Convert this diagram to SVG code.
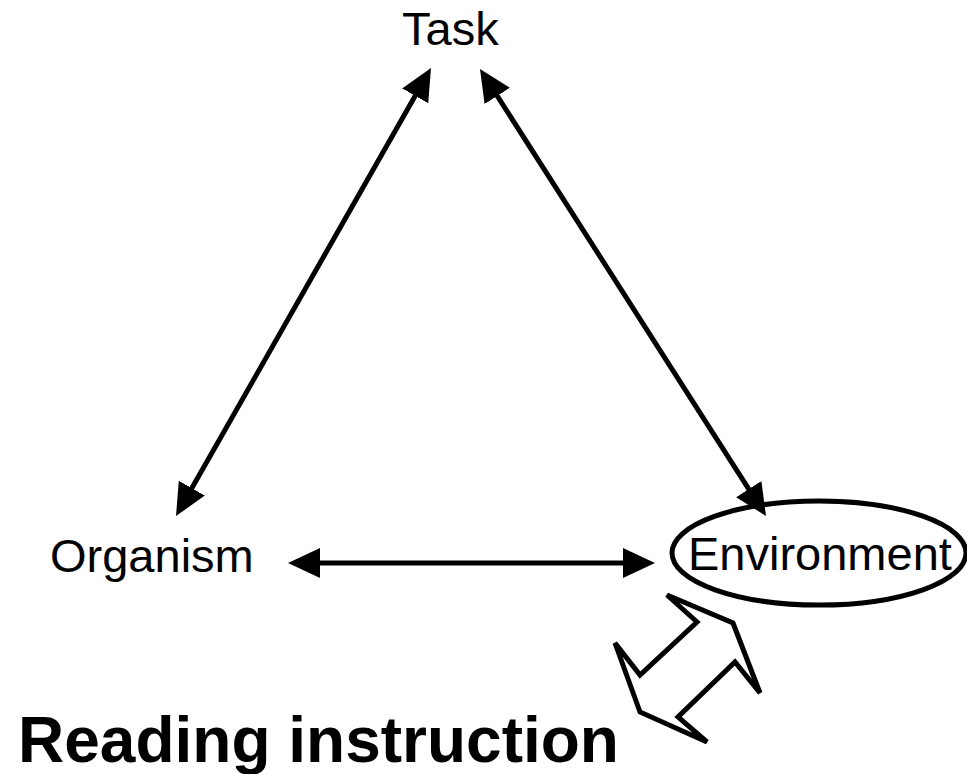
<svg xmlns="http://www.w3.org/2000/svg" width="967" height="774" viewBox="0 0 967 774">
<style>
.lbl{font-family:"Liberation Sans",Arial,sans-serif;font-size:47px;fill:#000}
.big{font-family:"Liberation Sans",Arial,sans-serif;font-size:64px;font-weight:bold;fill:#000}
.edge{stroke:#000;stroke-width:5;fill:none;marker-start:url(#ah);marker-end:url(#ah)}
</style>
<defs>
<marker id="ah" markerUnits="userSpaceOnUse" markerWidth="32" markerHeight="30" viewBox="0 0 32 30" refX="22" refY="15" orient="auto-start-reverse">
<path d="M0,0 L32,15 L0,30 Z" fill="#000"/>
</marker>
</defs>
<rect width="967" height="774" fill="#fff"/>
<g id="connectors">
<line class="edge" x1="426.05" y1="76.69" x2="180.95" y2="507.31"/>
<line class="edge" x1="485.39" y1="77.42" x2="760.61" y2="507.58"/>
<line class="edge" x1="298" y1="563" x2="645" y2="563"/>
<polygon points="667,595 733,623 760,693 735,662 678,717 707,742 640,712 615,643 640,675 697,622" fill="#fff" stroke="#000" stroke-width="5" stroke-linejoin="miter"/>
</g>
<g id="task">
<text class="lbl" x="402" y="45">Task</text>
</g>
<g id="organism">
<text class="lbl" x="50" y="572">Organism</text>
</g>
<g id="environment">
<ellipse cx="819" cy="553" rx="147" ry="52" fill="none" stroke="#000" stroke-width="5"/>
<text class="lbl" x="688" y="570">Environment</text>
</g>
<g id="reading">
<text class="big" x="18" y="762">Reading instruction</text>
</g>
</svg>
